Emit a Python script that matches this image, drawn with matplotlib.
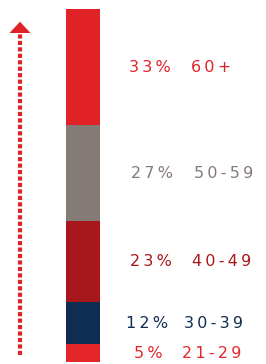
import numpy as np
import matplotlib
matplotlib.use("Agg")
import matplotlib.pyplot as plt
from matplotlib.patches import Polygon

# age groups, bottom to top
ages = ["21-29", "30-39", "40-49", "50-59", "60+"]
shares = [5, 12, 23, 27, 33]
colors = ["#e4262a", "#0f2d52", "#a8171b", "#857b76", "#e12328"]
pct_x = [134, 126, 130, 131, 129]
age_x = [182, 184, 192, 194, 191]


def spaced(s):
    # the original uses a wide, letter-spaced font
    return "\u2009".join(s)


fig = plt.figure(figsize=(2.66, 3.64), dpi=100)
ax = fig.add_axes([0, 2 / 364, 1, 353 / 364])
ax.set_xlim(0, 266)
ax.set_ylim(0, 100)
ax.axis("off")

bottoms = np.concatenate([[0], np.cumsum(shares)[:-1]])
ax.bar(83, shares, bottom=bottoms, width=34, color=colors, linewidth=0)

for age, s, b, c, px, axx in zip(ages, shares, bottoms, colors, pct_x, age_x):
    y = b + s / 2
    ax.text(px, y, spaced(f"{s}%"), color=c, fontsize=11.5, va="center", ha="left")
    ax.text(axx, y, spaced(age), color=c, fontsize=11.5, va="center", ha="left")

# dotted arrow on the left
ax.plot([20, 20], [2, 93], color="#e12328", lw=3, linestyle=(0, (1, 0.55)),
        solid_capstyle="butt")
ax.add_patch(Polygon([[9.5, 93.2], [30.5, 93.2], [20, 96.4]], closed=True,
                     color="#e12328", lw=0))

fig.savefig("out.png", dpi=100)
